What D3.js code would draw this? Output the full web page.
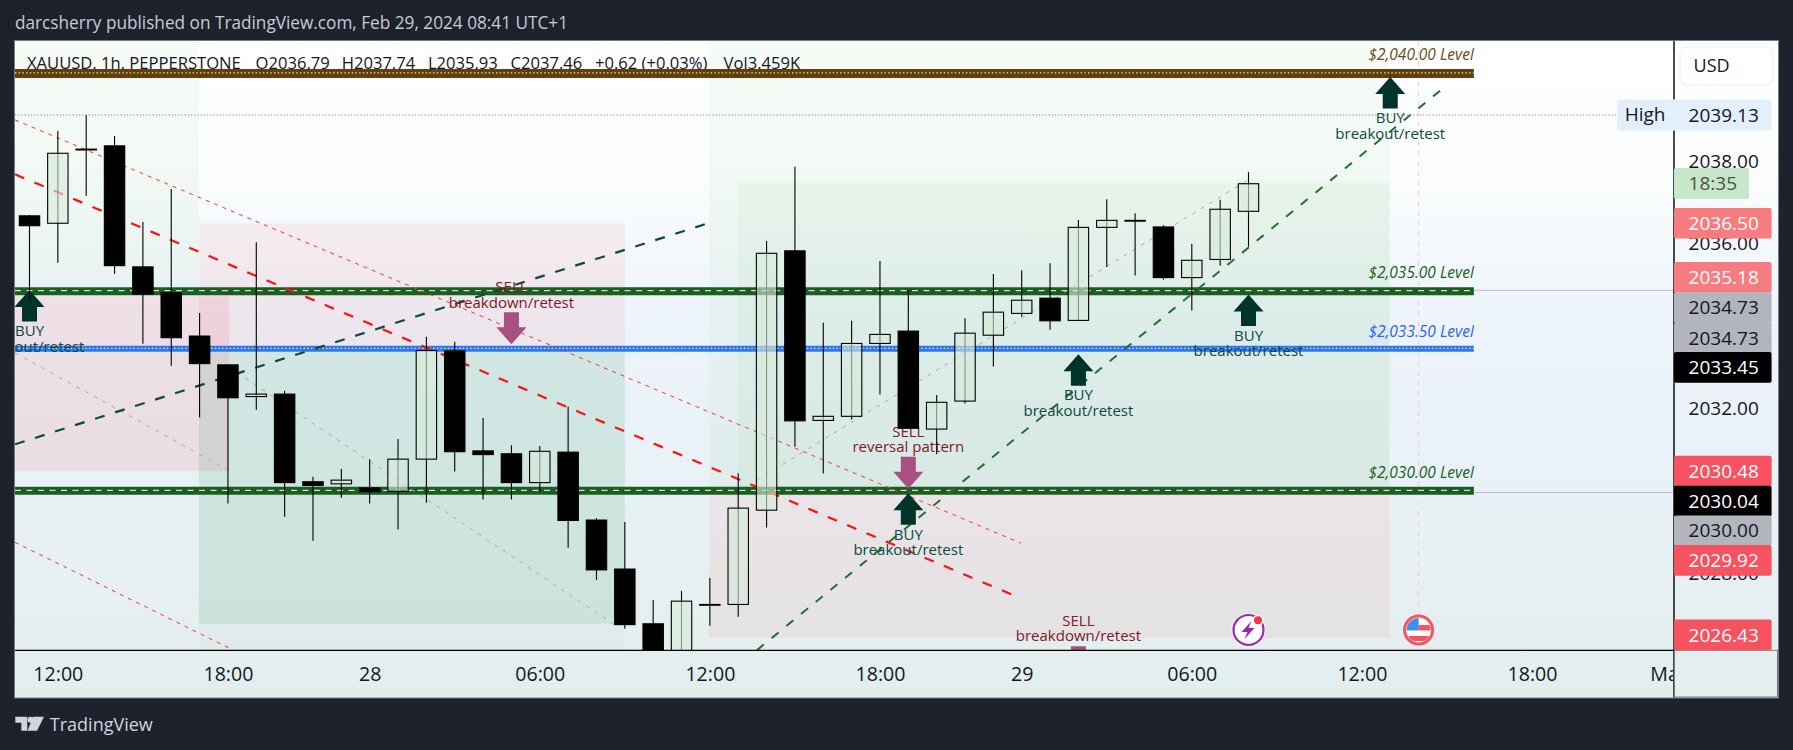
<!DOCTYPE html>
<html><head><meta charset="utf-8">
<script src="https://cdn.jsdelivr.net/npm/d3@7/dist/d3.min.js"></script>
<style>html,body{margin:0;padding:0;background:#1e222d;overflow:hidden}svg{display:block}text{font-family:"Open Sans",sans-serif}</style>
</head><body><svg id="c" width="1793" height="750"></svg>
<script>
// ---------- candle data (open, high, low, close) ----------
const opens =[2036.68,2036.50,2038.30,2038.38,2035.44,2034.81,2033.76,2033.06,2032.29,2032.35,2030.22,2030.17,2030.07,2029.99,2030.77,2033.40,2030.97,2030.90,2030.20,2030.94,2029.29,2028.10,2026.77,2025.60,2027.24,2027.24,2029.53,2035.83,2031.71,2031.81,2033.58,2033.88,2031.50,2032.18,2033.78,2034.31,2034.68,2034.14,2036.40,2036.57,2036.41,2035.18,2035.62,2036.79];
const highs =[2036.70,2038.74,2039.13,2038.62,2036.53,2037.33,2034.32,2033.06,2036.04,2032.43,2030.34,2030.53,2030.77,2031.26,2033.74,2033.62,2031.77,2031.11,2031.09,2032.05,2029.34,2029.24,2027.35,2027.57,2027.88,2030.43,2036.07,2037.87,2034.08,2034.13,2035.58,2034.88,2032.33,2034.19,2035.27,2035.36,2035.53,2036.58,2037.08,2036.74,2036.45,2036.00,2037.07,2037.74];
const lows  =[2034.65,2035.54,2037.17,2035.27,2033.57,2033.04,2031.78,2029.69,2031.97,2029.37,2028.79,2029.83,2029.69,2029.06,2029.71,2030.47,2029.79,2029.79,2029.98,2028.62,2027.84,2026.65,2025.16,2025.41,2026.72,2026.94,2029.11,2031.07,2030.42,2031.73,2032.34,2031.52,2030.89,2032.12,2033.02,2034.23,2033.91,2034.14,2035.44,2035.23,2035.13,2034.38,2035.47,2035.93];
const closes=[2036.44,2038.20,2038.30,2035.47,2034.78,2033.72,2033.09,2032.26,2032.35,2030.20,2030.13,2030.26,2029.98,2030.77,2033.41,2030.95,2030.88,2030.20,2030.96,2029.28,2028.08,2026.75,2025.41,2027.32,2027.24,2029.58,2035.77,2031.70,2031.81,2033.58,2033.80,2031.52,2032.15,2033.83,2034.34,2034.63,2034.13,2036.40,2036.57,2036.57,2035.18,2035.60,2036.84,2037.46];
const timeTickBars  =[1,7,12,18,24,30,35,41,47,53,57.8];
const timeTickLabels=["12:00","18:00","28","06:00","12:00","18:00","29","06:00","12:00","18:00","Mar"];
const priceTicks=[2038,2036,2032,2028];
const zones=[
 {b0:-1,b1:5.98,top:2041,bot:2034.73,kind:"greenSoft"},
 {b0:5.98,b1:21,top:2036.50,bot:2033.45,kind:"pink"},
 {b0:5.98,b1:21,top:2033.45,bot:2025,kind:"greenFaint"},
 {b0:5.98,b1:21,top:2033.45,bot:2026.77,kind:"green"},
 {b0:-1,b1:7.04,top:2034.73,bot:2030.48,kind:"pinkStrong"},
 {b0:23.97,b1:47.98,top:2041,bot:2029.92,kind:"greenSoft"},
 {b0:25,b1:47.98,top:2037.49,bot:2029.92,kind:"greenMid"},
 {b0:23.97,b1:47.98,top:2029.92,bot:2026.43,kind:"pink"}];
const levels=[
 {p:2040.14,kind:"brown",label:"$2,040.00 Level",labelP:2040.59},
 {p:2034.85,kind:"green",label:"$2,035.00 Level",labelP:2035.30},
 {p:2033.45,kind:"blue", label:"$2,033.50 Level",labelP:2033.87},
 {p:2030.00,kind:"green",label:"$2,030.00 Level",labelP:2030.45}];
const trends=[
 {a:[-0.51,2039.01],b:[34.97,2028.73],kind:"redThin"},
 {a:[-0.51,2037.69],b:[34.83,2027.43],kind:"redMid"},
 {a:[-0.51,2028.75],b:[7.19,2026.13],kind:"redThin"},
 {a:[-0.51,2033.35],b:[7.00,2030.51],kind:"gray"},
 {a:[7.02,2033.01],b:[20.65,2026.74],kind:"gray"},
 {a:[25.66,2030.26],b:[42.98,2037.55],kind:"gray"},
 {a:[-0.51,2031.13],b:[23.94,2036.50],kind:"teal"},
 {a:[25.66,2026.13],b:[49.95,2039.83],kind:"greenDash"}];
const buySignals=[[0,2034.88],[37,2033.32],[31,2029.94],[48,2040.05],[43,2034.77]];
const sellSignals=[[17,2033.56,"breakdown/retest"],[31,2030.05,"reversal pattern"],[37,2025.45,"breakdown/retest"]];
const priceTags=[
 {v:"2036.50",p:2036.50,bg:"#f77c80",fg:"#fff",w:1},
 {v:"2035.18",p:2035.19,bg:"#f77c80",fg:"#fff",w:1},
 {v:"2034.73",p:2034.45,bg:"#b2b5be",fg:"#131722",w:0},
 {v:"2034.73",p:2033.71,bg:"#b2b5be",fg:"#131722",w:0},
 {v:"2033.45",p:2033.00,bg:"#000",fg:"#fff",w:1},
 {v:"2030.48",p:2030.48,bg:"#f7525f",fg:"#fff",w:1},
 {v:"2030.04",p:2029.75,bg:"#000",fg:"#fff",w:1},
 {v:"2030.00",p:2029.03,bg:"#b2b5be",fg:"#131722",w:0},
 {v:"2029.92",p:2028.31,bg:"#f7525f",fg:"#fff",w:1},
 {v:"2026.43",p:2026.50,bg:"#f7525f",fg:"#fff",w:1}];
const legendParts=[["XAUUSD, 1h, PEPPERSTONE",27],["O2036.79",255.6],["H2037.74",341.7],["L2035.93",427.9],["C2037.46",510.5],["+0.62 (+0.03%)",595],["Vol3.459K",723.6]];

// ---------- layout ----------
const L=15,T=41,PR=1674,R=1778,PB=650.3,B=697.5;
const x=d3.scaleLinear().domain([0,43]).range([29.5,1248.5]);
const y=d3.scaleLinear().domain([2038,2032]).range([161.5,408.5]);
const svg=d3.select("#c");
const defs=svg.append("defs");
const grad=defs.append("linearGradient").attr("id","bg").attr("x1",0).attr("x2",0).attr("y1",0).attr("y2",1);
[[0,"#ffffff"],[.2,"#fbfdfd"],[.42,"#edf4fa"],[.6,"#e9f2f8"],[.8,"#e7f0f2"],[1,"#e2eded"]].forEach(s=>grad.append("stop").attr("offset",s[0]).attr("stop-color",s[1]));
defs.append("clipPath").attr("id","plot").append("rect").attr("x",L).attr("y",T).attr("width",PR-L).attr("height",PB-T);

svg.append("text").attr("x",15).attr("y",23).attr("dy",".35em").attr("fill","#c8cbd4").attr("font-size",18.5).attr("font-weight",500)
  .attr("textLength",553).attr("lengthAdjust","spacingAndGlyphs").text("darcsherry published on TradingView.com, Feb 29, 2024 08:41 UTC+1");
svg.append("rect").attr("x",L-.5).attr("y",T-.5).attr("width",R-L+1).attr("height",B-T+1).attr("fill","url(#bg)").attr("stroke","#787b86");

const plot=svg.append("g").attr("clip-path","url(#plot)");
const zoneFill={greenSoft:["#4caf50",.05],greenMid:["#4caf50",.05],green:["#3fa86a",.12],greenFaint:["#4caf50",.03],pink:["#f23645",.07],pinkStrong:["#f23645",.11]};
plot.selectAll(".zone").data(zones).join("rect").attr("x",d=>x(d.b0)).attr("width",d=>x(d.b1)-x(d.b0))
  .attr("y",d=>y(d.top)).attr("height",d=>y(d.bot)-y(d.top)).attr("fill",d=>zoneFill[d.kind][0]).attr("fill-opacity",d=>zoneFill[d.kind][1]);
// legend sits under the level band
plot.selectAll(".leg").data(legendParts).join("text").attr("x",d=>d[1]).attr("y",63.3).attr("dy",".35em").attr("font-size",16.6).attr("fill","#131722").text(d=>d[0]);

// high line, vertical session marker
svg.append("line").attr("x1",L).attr("x2",1616).attr("y1",y(2039.13)).attr("y2",y(2039.13)).attr("stroke","#787b86").attr("stroke-dasharray","1.2 2");
plot.append("line").attr("x1",x(49)).attr("x2",x(49)).attr("y1",T).attr("y2",y(2026.99)).attr("stroke","#f7c9d4").attr("stroke-dasharray","5 5");

// levels
const levelEnd=x(50.95);
const lvl={brown:["#63400a",9,"1.5 2.2"],green:["#1b5e20",8,"6 5.5"],blue:["#2f77f2",6,"1.5 2.2"]};
const lv=plot.selectAll(".lv").data(levels).join("g");
lv.append("line").attr("x1",L).attr("x2",levelEnd).attr("y1",d=>y(d.p)).attr("y2",d=>y(d.p)).attr("stroke",d=>lvl[d.kind][0]).attr("stroke-width",d=>lvl[d.kind][1]);
lv.append("line").attr("x1",L).attr("x2",levelEnd).attr("y1",d=>y(d.p)-.5).attr("y2",d=>y(d.p)-.5).attr("stroke","#fff").attr("stroke-dasharray",d=>lvl[d.kind][2]);
const lblCol={brown:"#6a4a10",green:"#1b5e20",blue:"#2962ff"};
lv.append("text").attr("x",levelEnd).attr("y",d=>y(d.labelP)).attr("dy",".35em").attr("text-anchor","end").attr("font-style","italic").attr("font-size",15.5).attr("fill",d=>lblCol[d.kind]).text(d=>d.label);
[2034.87,2029.96].forEach(p=>svg.append("line").attr("x1",levelEnd).attr("x2",PR).attr("y1",y(p)).attr("y2",y(p)).attr("stroke","#c5b8e8"));

// trend lines
const tr={redThin:["#ff3030",1,"4 5"],redMid:["#ff1010",2.2,"10 11"],gray:["#a9adb0",1,"4 6"],teal:["#0d4a3e",2.2,"10 11"],greenDash:["#25702c",2,"9 10"]};
plot.selectAll(".tr").data(trends).join("line").attr("x1",d=>x(d.a[0])).attr("y1",d=>y(d.a[1])).attr("x2",d=>x(d.b[0])).attr("y2",d=>y(d.b[1]))
  .attr("stroke",d=>tr[d.kind][0]).attr("stroke-width",d=>tr[d.kind][1]).attr("stroke-dasharray",d=>tr[d.kind][2]);

// signals
const upPath="M0 0L15 17L7.5 17L7.5 31.5L-7.5 31.5L-7.5 17L-15 17Z";
const dnPath="M0 0L15 -17L7.5 -17L7.5 -32L-7.5 -32L-7.5 -17L-15 -17Z";
const sig=plot.append("g");
sig.selectAll(".b").data(buySignals).join("g").attr("transform",d=>`translate(${x(d[0])},${y(d[1])})`).each(function(){
  const g=d3.select(this);
  g.append("path").attr("d",upPath).attr("fill","#00332a");
  g.append("text").attr("y",41).attr("dy",".35em").attr("text-anchor","middle").attr("font-size",15).attr("fill","#0c4a3e").text("BUY");
  g.append("text").attr("y",56.5).attr("dy",".35em").attr("text-anchor","middle").attr("font-size",15).attr("fill","#0c4a3e").text("breakout/retest");
});
sig.selectAll(".s").data(sellSignals).join("g").attr("transform",d=>`translate(${x(d[0])},${y(d[1])})`).each(function(d){
  const g=d3.select(this);
  g.append("path").attr("d",dnPath).attr("fill","#a8507f");
  g.append("text").attr("y",-57.5).attr("dy",".35em").attr("text-anchor","middle").attr("font-size",15).attr("fill","#801922").text("SELL");
  g.append("text").attr("y",-42).attr("dy",".35em").attr("text-anchor","middle").attr("font-size",15).attr("fill","#801922").text(d[2]);
});

// candles
const idx=d3.range(opens.length);
const cg=plot.append("g");
cg.selectAll(".w").data(idx).join("line").attr("x1",i=>x(i)).attr("x2",i=>x(i)).attr("y1",i=>y(highs[i])).attr("y2",i=>y(lows[i])).attr("stroke","#000").attr("stroke-width",1.1);
cg.selectAll(".c").data(idx).join("rect")
  .attr("x",i=>x(i)-10.2).attr("width",20.4)
  .attr("y",i=>y(Math.max(opens[i],closes[i])))
  .attr("height",i=>Math.max(.8,Math.abs(y(opens[i])-y(closes[i]))))
  .attr("fill",i=>closes[i]>=opens[i]?"rgba(214,234,218,.62)":"#000")
  .attr("stroke","#000").attr("stroke-width",1.1);

// event icons
const ev=plot.append("g").attr("transform",`translate(${x(43)},${y(2026.62)})`);
ev.append("circle").attr("r",17).attr("fill","#fff");
ev.append("circle").attr("r",15).attr("fill","#fff").attr("stroke","#9c27b0").attr("stroke-width",2.2);
ev.append("path").attr("d","M3 -9L-7 2L-1 2L-4 9L6 -2L0 -2Z").attr("fill","#9c27b0");
ev.append("circle").attr("cx",9.5).attr("cy",-9.7).attr("r",5.5).attr("fill","#fff");
ev.append("circle").attr("cx",9.5).attr("cy",-9.7).attr("r",4).attr("fill","#f23645");
const fl=plot.append("g").attr("transform",`translate(${x(49)},${y(2026.62)})`);
fl.append("circle").attr("r",15.5).attr("fill","#f7525f");
fl.append("circle").attr("r",12.5).attr("fill","#fff");
defs.append("clipPath").attr("id","flc").append("circle").attr("r",12);
const ff=fl.append("g").attr("clip-path","url(#flc)");
ff.append("rect").attr("x",-13).attr("y",-13).attr("width",13).attr("height",13.5).attr("fill","#3d8fe8");
ff.append("rect").attr("x",0).attr("y",-5).attr("width",13).attr("height",5.5).attr("fill","#f7525f");
ff.append("rect").attr("x",-13).attr("y",6).attr("width",26).attr("height",5).attr("fill","#f7525f");

// axes
svg.append("line").attr("x1",L).attr("x2",PR).attr("y1",PB).attr("y2",PB).attr("stroke","#000").attr("stroke-width",1.2);
svg.append("line").attr("x1",PR).attr("x2",PR).attr("y1",T).attr("y2",B).attr("stroke","#000").attr("stroke-width",1.4);
svg.append("rect").attr("x",PR+.5).attr("y",PB).attr("width",R-PR-1).attr("height",B-PB-.5).attr("fill","#e3eeee").attr("stroke","#787b86");

const ay=svg.append("g").attr("transform",`translate(${PR},0)`)
  .call(d3.axisRight(y).tickValues(priceTicks).tickSize(0).tickPadding(14.6).tickFormat(d3.format(".2f")));
ay.select(".domain").remove();
ay.selectAll("text").attr("font-size",19).attr("fill","#131722").style("font-family",'"Open Sans",sans-serif');
defs.append("clipPath").attr("id","timeclipAx").append("rect").attr("x",L).attr("y",0).attr("width",PR-L-1).attr("height",B-PB);
const ax=svg.append("g").attr("transform",`translate(0,${PB})`).attr("clip-path","url(#timeclipAx)");
const axg=ax.append("g").call(d3.axisBottom(x).tickValues(timeTickBars).tickSize(0).tickPadding(16.5).tickFormat((d,i)=>timeTickLabels[i]));
axg.select(".domain").remove();
axg.selectAll("text").attr("font-size",19.6).attr("fill","#131722").style("font-family",'"Open Sans",sans-serif');

// USD button
svg.append("rect").attr("x",1680).attr("y",47).attr("width",93).attr("height",38).attr("rx",7).attr("fill","#fff").attr("stroke","#f0f3fa").attr("stroke-width",1.5);
svg.append("text").attr("x",1693.6).attr("y",65.7).attr("dy",".35em").attr("font-size",18).attr("fill","#131722").text("USD");

// high tag
svg.append("rect").attr("x",1617).attr("y",y(2039.13)-15.4).attr("width",154.6).attr("height",30.8).attr("rx",2).attr("fill","#e3effb");
svg.append("text").attr("x",1624.7).attr("y",y(2039.13)-1).attr("dy",".35em").attr("font-size",19).attr("fill","#131722").text("High");
svg.append("text").attr("x",1688.6).attr("y",y(2039.13)).attr("dy",".35em").attr("font-size",19).attr("fill","#131722").text("2039.13");
// countdown
svg.append("rect").attr("x",PR).attr("y",168).attr("width",75).attr("height",31).attr("rx",2).attr("fill","#c8e6c9");
svg.append("text").attr("x",1688.6).attr("y",183.7).attr("dy",".35em").attr("font-size",19).attr("fill","#45534a").text("18:35");
// price tags
const tg=svg.selectAll(".tag").data(priceTags).join("g").attr("transform",d=>`translate(${PR},${y(d.p)})`);
tg.append("rect").attr("y",-15.3).attr("width",97.6).attr("height",30.6).attr("rx",2).attr("fill",d=>d.bg);
tg.append("text").attr("x",14.6).attr("dy",".35em").attr("font-size",19).attr("font-weight",d=>d.w?500:400).attr("fill",d=>d.fg).text(d=>d.v);

// footer logo
svg.append("path").attr("fill","#d1d4dc").attr("d","M15.3 716.7H27.3V730.7H21.3V722.7H15.3ZM33 716.7H44L37 730.7H27.5Z");
svg.append("circle").attr("cx",30.5).attr("cy",719.7).attr("r",3).attr("fill","#d1d4dc");
svg.append("text").attr("x",49.8).attr("y",724.3).attr("dy",".35em").attr("font-size",18).attr("font-weight",500).attr("fill","#d1d4dc").text("TradingView");
</script></body></html>
